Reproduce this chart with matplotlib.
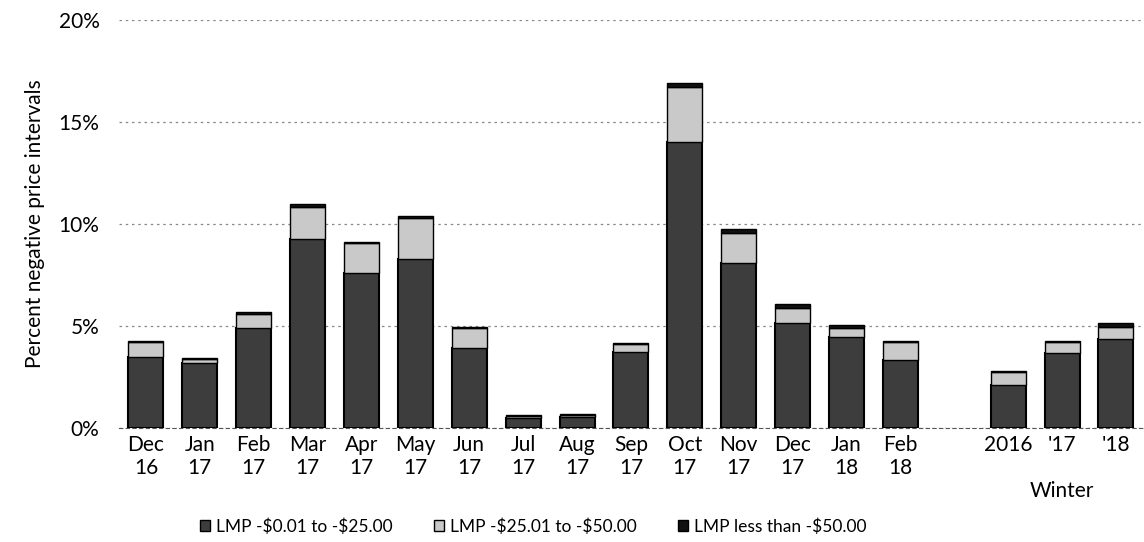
import matplotlib
matplotlib.use("Agg")
import matplotlib.pyplot as plt
from matplotlib.patches import Patch

plt.rcParams['font.family'] = ['Lato', 'DejaVu Sans']

nan = float("nan")
categories = ["Dec\n16", "Jan\n17", "Feb\n17", "Mar\n17", "Apr\n17", "May\n17", "Jun\n17",
              "Jul\n17", "Aug\n17", "Sep\n17", "Oct\n17", "Nov\n17", "Dec\n17", "Jan\n18",
              "Feb\n18", "", "2016", "'17", "'18"]
group_label = "Winter"

lmp_0_25 = [3.5, 3.2, 4.9, 9.25, 7.6, 8.3, 3.9, 0.5, 0.55, 3.75, 14.0, 8.1, 5.15, 4.45,
            3.33, nan, 2.1, 3.7, 4.36]
lmp_25_50 = [0.7, 0.2, 0.7, 1.6, 1.45, 2.0, 1.0, 0.08, 0.1, 0.35, 2.7, 1.45, 0.75, 0.45,
             0.9, nan, 0.65, 0.5, 0.6]
lmp_below_50 = [0.05, 0.05, 0.08, 0.15, 0.07, 0.1, 0.05, 0.06, 0.05, 0.06, 0.22, 0.2, 0.2, 0.17,
                0.05, nan, 0.05, 0.06, 0.2]

series_names = ["LMP -\\$0.01 to -\\$25.00", "LMP -\\$25.01 to -\\$50.00", "LMP less than -\\$50.00"]
colors = ["#3d3d3d", "#c9c9c9", "#111111"]

fig = plt.figure(figsize=(11.44, 5.42), dpi=100)
ax = fig.add_axes([119/1144, (542-428)/542, 1 - 119/1144 - 0.001, (428-20)/542])

x = list(range(len(categories)))
bw = 0.65
ax.bar(x, lmp_0_25, bw, color=colors[0], edgecolor="black", linewidth=1.5, zorder=3)
bottom2 = lmp_0_25
ax.bar(x, lmp_25_50, bw, bottom=bottom2, color=colors[1], edgecolor="black", linewidth=1.0, zorder=3)
bottom3 = [a + b for a, b in zip(lmp_0_25, lmp_25_50)]
ax.bar(x, lmp_below_50, bw, bottom=bottom3, color=colors[2], edgecolor="black", linewidth=1.0, zorder=3)

ax.set_xlim(-0.5, 18.5)
ax.set_ylim(0, 20)
ax.set_yticks([0, 5, 10, 15, 20])
ax.set_yticklabels(["0%", "5%", "10%", "15%", "20%"], fontsize=15)
ax.yaxis.grid(True, linestyle=(0, (2, 3)), color="#888888", linewidth=0.9, zorder=0)
ax.set_axisbelow(True)
for s in ["top", "right", "left"]:
    ax.spines[s].set_visible(False)
ax.spines["bottom"].set_linestyle((0, (3, 3)))
ax.spines["bottom"].set_color("#555555")
ax.tick_params(axis="both", length=0)
ax.tick_params(axis="y", pad=14)
ax.tick_params(axis="x", pad=5)
ax.set_xticks(x)
ax.set_xticklabels(categories, fontsize=15, linespacing=1.2)
ax.set_ylabel("Percent negative price intervals", fontsize=15, labelpad=10)

ax.text(17, -0.13, group_label, transform=ax.get_xaxis_transform(), ha="center", va="top", fontsize=15)

handles = [Patch(facecolor=c, edgecolor="black") for c in colors]
fig.legend(handles, series_names, loc="lower center", bbox_to_anchor=(0.466, -0.015), ncol=3,
           frameon=False, fontsize=12.5, handlelength=0.6, handleheight=0.6, handletextpad=0.3,
           columnspacing=2.4)

fig.savefig("out.png", dpi=100)
